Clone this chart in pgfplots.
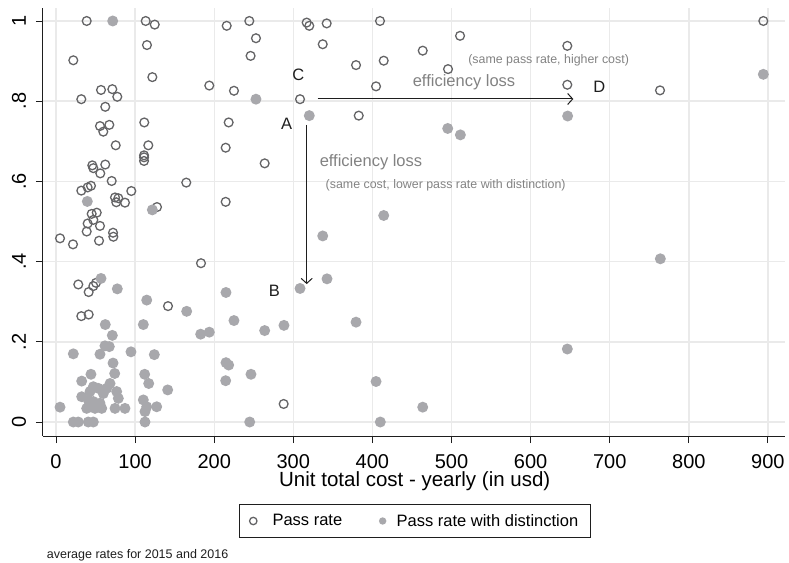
\documentclass[border=0pt]{standalone}
\usepackage{pgfplots}
\pgfplotsset{compat=1.18}
\usepackage{fontspec}
\setmainfont{Liberation Sans}
\usetikzlibrary{arrows.meta}
\definecolor{hollowc}{RGB}{100,100,102}
\definecolor{fillc}{RGB}{168,168,172}
\definecolor{gridc}{RGB}{234,234,234}
\definecolor{annc}{RGB}{130,130,130}
\definecolor{darkc}{RGB}{30,30,30}

\begin{document}
\begin{tikzpicture}
\begin{axis}[
  at={(0,0)}, anchor=south west,
  scale only axis, width=742bp, height=428bp,
  xmin=-16.43, xmax=921.6, ymin=-0.0349, ymax=1.0324,
  axis x line*=bottom, axis y line*=left,
  axis line style={darkc, line width=1bp, -},
  xtick={0,100,...,900}, ytick={0,0.2,0.4,0.6,0.8,1},
  yticklabels={0,.2,.4,.6,.8,1},
  /pgf/number format/assume math mode=true,
  tick align=outside, major tick length=7bp,
  tick style={darkc, line width=0.9bp},
  grid=major, major grid style={gridc, line width=1.4bp},
  xticklabel style={font=\fontsize{20bp}{22bp}\selectfont, anchor=base, yshift=-25bp, inner sep=0pt},
  yticklabel style={font=\fontsize{20bp}{22bp}\selectfont, xshift=-10bp, rotate=90, anchor=base},
  xlabel={Unit total cost - yearly (in usd)},
  xlabel style={font=\fontsize{20.5bp}{22bp}\selectfont, at={(axis description cs:0.501,-0.1185)}, anchor=base, inner sep=0pt},
  legend columns=2,
  legend style={at={(axis description cs:0.5012,-0.1986)}, anchor=center, draw=darkc, line width=0.9bp,
    font=\fontsize{16.5bp}{18bp}\selectfont, inner xsep=10bp, inner ysep=7.5bp,
    /tikz/column 1/.style={column sep=13.6bp},
    /tikz/column 2/.style={column sep=34.7bp},
    /tikz/column 3/.style={column sep=8.3bp}},
  legend cell align=left,
  legend image code/.code={\draw[#1, mark size=3.7bp] plot coordinates {(0bp,0bp)};},
]
\addplot[only marks, mark=o, mark size=4.4bp, color=hollowc, mark options={line width=1.3bp}] coordinates {
(38.8,1.0) (113.4,1.0) (124.8,0.991) (215.8,0.988) (244.4,1.0) (252.8,0.957) (115,0.940) (246,0.913)
(21.9,0.902) (121.8,0.860) (193.8,0.839) (225,0.826) (56.9,0.828) (71.2,0.830) (77.5,0.811) (32,0.805)
(308.5,0.805) (62.3,0.786) (111.6,0.747) (218.3,0.747) (55.6,0.738) (67.4,0.741) (59.8,0.724) (75.5,0.690)
(116.7,0.690) (214.5,0.684) (111.3,0.665) (111.3,0.660) (111.3,0.651) (263.8,0.645) (45.9,0.640) (47.2,0.633)
(62.3,0.642) (56,0.620) (70.4,0.601) (164.7,0.597) (32,0.577) (40,0.585) (44.2,0.589) (95.2,0.576)
(74.6,0.560) (78.8,0.558) (76.2,0.548) (87.2,0.547) (214.5,0.549) (127.7,0.536) (45.1,0.519) (51.5,0.522)
(47.2,0.504) (40,0.495) (55.6,0.489) (38.8,0.475) (5.1,0.458) (21.5,0.443) (54.4,0.452) (72.1,0.472)
(72.5,0.462) (28.2,0.343) (41.3,0.324) (47.2,0.339) (50.6,0.347) (32,0.264) (41.3,0.268) (141.6,0.289)
(183.3,0.396) (287.8,0.045) (316.9,0.996) (320.2,0.988) (342.2,0.994) (409.6,1.0) (337.2,0.942) (510.8,0.963)
(463.6,0.926) (646.4,0.938) (379.3,0.890) (414.3,0.901) (495.6,0.880) (404.6,0.837) (646.4,0.841) (763.6,0.827)
(894.2,1.0) (382.7,0.764)
};
\addlegendentry{Pass rate}
\addplot[only marks, mark=*, mark size=5.5bp, color=fillc, mark options={fill=fillc, draw opacity=0}] coordinates {
(71.7,1.0) (252.8,0.805) (39.6,0.550) (121.8,0.529) (320.2,0.764) (495.2,0.732) (511.2,0.716) (646.8,0.763)
(894.2,0.867) (414.3,0.515) (337.2,0.464) (342.6,0.357) (308.5,0.333) (379.3,0.249) (404.6,0.101) (463.6,0.037)
(410,0) (646.4,0.182) (764,0.407) (165.2,0.276) (182.9,0.219) (193.8,0.224) (214.9,0.323) (225,0.253)
(263.8,0.228) (288.2,0.241) (214.9,0.148) (218.3,0.142) (214.5,0.103) (246.5,0.119) (244.9,0) (56.9,0.358)
(77.5,0.332) (114.7,0.304) (110.4,0.243) (62.3,0.243) (71.2,0.216) (61.9,0.190) (67.4,0.188) (21.9,0.170)
(55.6,0.169) (94.8,0.175) (124.3,0.168) (72.1,0.147) (74.2,0.121) (44.2,0.119) (112.1,0.119) (32.5,0.102)
(117.2,0.096) (141.2,0.080) (47.2,0.088) (53.5,0.084) (43,0.076) (64.1,0.084) (68.3,0.096) (59.8,0.071)
(76.7,0.076) (32.5,0.063) (78.8,0.059) (40.8,0.055) (47.2,0.051) (55.6,0.047) (38.8,0.034) (49.3,0.034)
(57.8,0.034) (74.6,0.034) (87.2,0.034) (5.1,0.037) (110.4,0.055) (114.7,0.038) (127.3,0.038) (112.5,0.026)
(21.9,0) (28.2,0) (40.8,0) (47.2,0) (112.5,0)
};
\addlegendentry{Pass rate with distinction}

\draw[-{Straight Barb[length=5bp,width=11bp]}, line width=1bp, darkc] (axis cs:330.8,0.8055) -- (axis cs:654,0.8055);
\draw[-{Straight Barb[length=5bp,width=11bp]}, line width=1bp, darkc] (axis cs:316.9,0.741) -- (axis cs:316.9,0.344);
\node[font=\fontsize{16.5bp}{18bp}\selectfont, text=darkc] at (axis cs:306.3,0.865) {C};
\node[font=\fontsize{16.5bp}{18bp}\selectfont, text=darkc] at (axis cs:291.6,0.743) {A};
\node[font=\fontsize{16.5bp}{18bp}\selectfont, text=darkc] at (axis cs:276,0.327) {B};
\node[font=\fontsize{16.5bp}{18bp}\selectfont, text=darkc] at (axis cs:686.9,0.836) {D};
\node[font=\fontsize{16.5bp}{18bp}\selectfont, text=annc] at (axis cs:515.8,0.847) {efficiency loss};
\node[font=\fontsize{12.4bp}{14bp}\selectfont, text=annc] at (axis cs:622.8,0.903) {(same pass rate, higher cost)};
\node[font=\fontsize{16.5bp}{18bp}\selectfont, text=annc] at (axis cs:398.2,0.648) {efficiency loss};
\node[font=\fontsize{12.4bp}{14bp}\selectfont, text=annc] at (axis cs:492.6,0.591) {(same cost, lower pass rate with distinction)};
\end{axis}
\node[anchor=west, inner sep=0pt, font=\fontsize{12.5bp}{14bp}\selectfont, text=darkc] at (3.7bp,-119bp) {average rates for 2015 and 2016};
\pgfresetboundingbox
\useasboundingbox (-43bp,-127bp) rectangle (746bp,436bp);
\end{tikzpicture}
\end{document}
